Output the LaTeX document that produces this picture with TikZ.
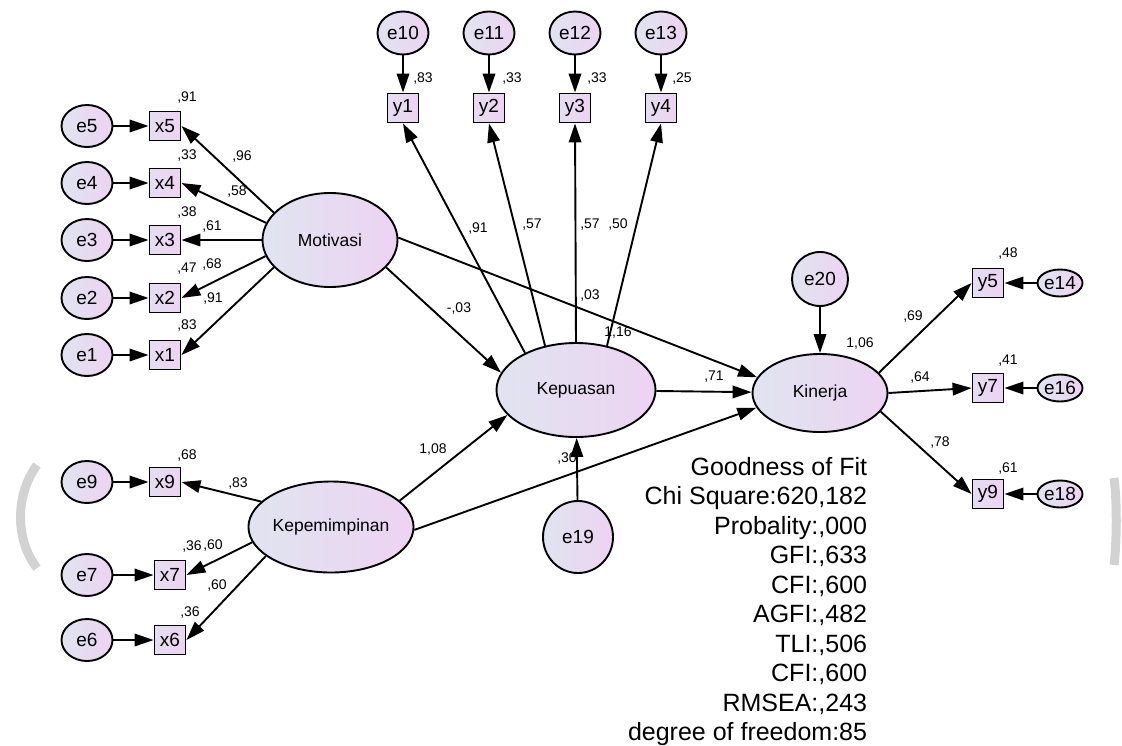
\documentclass[tikz,border=0pt]{standalone}
\usepackage{fontspec}
\setmainfont{Liberation Sans}
\usetikzlibrary{shapes.geometric,arrows.meta}
\definecolor{fillL}{RGB}{224,228,240}
\definecolor{fillR}{RGB}{237,211,242}
\definecolor{smudge}{RGB}{210,210,210}

\begin{document}
\begin{tikzpicture}[x=1pt,y=-1pt,line width=1.9pt,>={Triangle[length=19pt,width=12.5pt]},
  lat/.style={ellipse,draw,left color=fillL,right color=fillR,inner sep=0pt,font=\fontsize{17.5}{20}\selectfont},
  err/.style={ellipse,draw,left color=fillL,right color=fillR,inner sep=0pt,minimum width=51,minimum height=42,font=\fontsize{19}{20}\selectfont},
  errs/.style={err,minimum width=45,minimum height=27},
  obs/.style={rectangle,draw,left color=fillL!60!fillR,right color=fillR,inner sep=0pt,minimum width=31,minimum height=29,font=\fontsize{19}{20}\selectfont},
  num/.style={inner sep=0pt,font=\fontsize{14}{15}\selectfont},
  fit/.style={inner sep=0pt,align=right,font=\fontsize{25}{29.5}\selectfont}]
\useasboundingbox (0,0) rectangle (1122,745);
\draw[smudge,line width=9pt] (37,465) .. controls (15,495) and (15,540) .. (37,568);
\draw[smudge,line width=9pt] (1114,478) .. controls (1117,500) and (1117,540) .. (1114,565);
\node[err] (e5) at (87,126) {e5};
\node[err] (e4) at (87,183) {e4};
\node[err] (e3) at (87,240) {e3};
\node[err] (e2) at (87,298) {e2};
\node[err] (e1) at (87,355) {e1};
\node[obs] (x5) at (165,126) {x5};
\node[obs] (x4) at (165,183) {x4};
\node[obs] (x3) at (165,240) {x3};
\node[obs] (x2) at (165,298) {x2};
\node[obs] (x1) at (165,355) {x1};
\node[err] (e9) at (87,482) {e9};
\node[err] (e7) at (87,575) {e7};
\node[err] (e6) at (87,640) {e6};
\node[obs] (x9) at (165,482) {x9};
\node[obs] (x7) at (170,575) {x7};
\node[obs] (x6) at (170,640) {x6};
\node[lat,minimum width=135,minimum height=94] (mot) at (330,240) {Motivasi};
\node[lat,minimum width=135,minimum height=91] (kepem) at (331,527) {Kepemimpinan};
\node[lat,minimum width=159,minimum height=94] (kpu) at (576,390) {Kepuasan};
\node[lat,minimum width=135,minimum height=78] (kin) at (820,393) {Kinerja};
\node[err,minimum height=43] (e10) at (403,33) {e10};
\node[err,minimum height=43] (e11) at (489,33) {e11};
\node[err,minimum height=43] (e12) at (575,33) {e12};
\node[err,minimum height=43] (e13) at (661,33) {e13};
\node[obs] (y1) at (403,108) {y1};
\node[obs] (y2) at (489,108) {y2};
\node[obs] (y3) at (575,108) {y3};
\node[obs] (y4) at (661,108) {y4};
\node[err,minimum width=56,minimum height=54] (e20) at (820,279) {e20};
\node[err,minimum width=70,minimum height=72] (e19) at (578,537) {e19};
\node[obs] (y5) at (988,283) {y5};
\node[obs] (y7) at (988,388) {y7};
\node[obs] (y9) at (988,494) {y9};
\node[errs] (e14) at (1060,283) {e14};
\node[errs] (e16) at (1060,388) {e16};
\node[errs] (e18) at (1060,494) {e18};
\node[num] (r5) at (187,98) {,91};
\node[num] (r4) at (187,156) {,33};
\node[num] (r3) at (187,213) {,38};
\node[num] (r2) at (187,269) {,47};
\node[num] (r1) at (187,326) {,83};
\node[num] (l5) at (242,157) {,96};
\node[num] (l4) at (237,192) {,58};
\node[num] (l3) at (212,227) {,61};
\node[num] (l2) at (212,265) {,68};
\node[num] (l1) at (213,299) {,91};
\node[num] (r9) at (187,455) {,68};
\node[num] (l9) at (238,483) {,83};
\node[num] (r7) at (192,546) {,36};
\node[num] (l7) at (213,545) {,60};
\node[num] (l6) at (217,585) {,60};
\node[num] (r6) at (190,612) {,36};
\node[num] (ry1) at (423,79) {,83};
\node[num] (ry2) at (512,79) {,33};
\node[num] (ry3) at (597,79) {,33};
\node[num] (ry4) at (682,79) {,25};
\node[num] (ly1) at (478,229) {,91};
\node[num] (ly2) at (532,225) {,57};
\node[num] (ly3) at (590,225) {,57};
\node[num] (ly4) at (618,225) {,50};
\node[num] (mk) at (590,296) {,03};
\node[num] (rkpu) at (618,333) {1,16};
\node[num] (mp) at (459,309) {-,03};
\node[num] (kp) at (433,449) {1,08};
\node[num] (kk) at (567,458) {,30};
\node[num] (pk) at (714,377) {,71};
\node[num] (rkin) at (860,344) {1,06};
\node[num] (ly5) at (913,317) {,69};
\node[num] (ly7) at (920,378) {,64};
\node[num] (ly9) at (940,442) {,78};
\node[num] (ry5) at (1008,254) {,48};
\node[num] (ry7) at (1008,361) {,41};
\node[num] (ry9) at (1008,468) {,61};
\node[fit,anchor=north east] (gof) at (868,456) {Goodness of Fit\\Chi Square:620,182\\Probality:,000\\GFI:,633\\CFI:,600\\AGFI:,482\\TLI:,506\\CFI:,600\\RMSEA:,243\\degree of freedom:85};
\draw[->] (e5) -- (x5);
\draw[->] (e4) -- (x4);
\draw[->] (e3) -- (x3);
\draw[->] (e2) -- (x2);
\draw[->] (e1) -- (x1);
\draw[->] (e9) -- (x9);
\draw[->] (e7) -- (x7);
\draw[->] (e6) -- (x6);
\draw[->] (mot.154) -- (x5.east);
\draw[->] (mot.165) -- (x4.east);
\draw[->] (mot.180) -- (x3.east);
\draw[->] (mot.194) -- (x2.east);
\draw[->] (mot.206) -- (x1.east);
\draw[->] (kepem.160) -- (x9.east);
\draw[->] (kepem.191) -- (x7.east);
\draw[->] (kepem.204) -- (x6.east);
\draw[->] (e10) -- (y1);
\draw[->] (e11) -- (y2);
\draw[->] (e12) -- (y3);
\draw[->] (e13) -- (y4);
\draw[->] (kpu.144) -- (y1.south);
\draw[->] (kpu.125) -- (y2.south);
\draw[->] (kpu.90) -- (y3.south);
\draw[->] (kpu.55) -- (y4.south);
\draw[->] (mot.334) -- (kpu.167);
\draw[->] (mot.2) -- (kin.166);
\draw[->] (kepem.21) -- (kpu.200);
\draw[->] (kepem.358) -- (kin.193);
\draw[->] (kpu) -- (kin);
\draw[->] (e19) -- (kpu);
\draw[->] (e20) -- (kin);
\draw[->] (kin.19) -- (y5.west);
\draw[->] (kin.0) -- (y7.west);
\draw[->] (kin.343) -- (y9.west);
\draw[->] (e14) -- (y5);
\draw[->] (e16) -- (y7);
\draw[->] (e18) -- (y9);
\end{tikzpicture}
\end{document}
